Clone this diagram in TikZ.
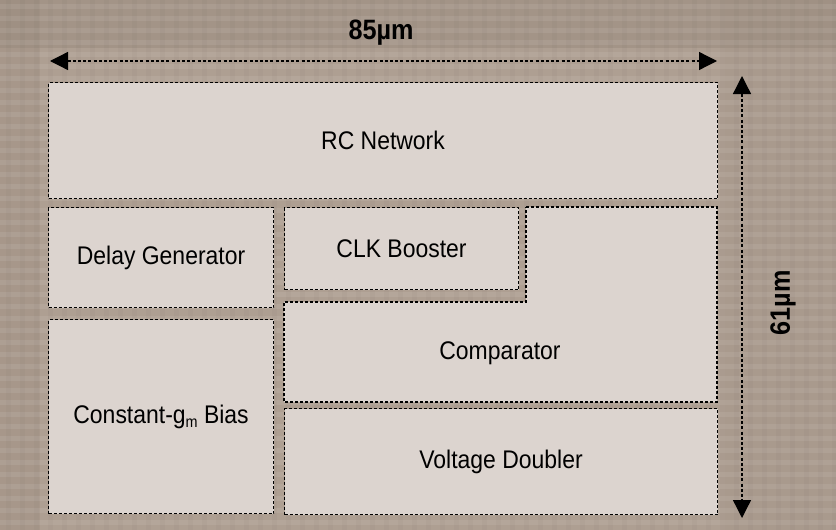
\documentclass[tikz,border=0pt]{standalone}
\usepackage{fontspec}
\setmainfont{Liberation Sans}[FakeStretch=0.9]
\usetikzlibrary{arrows.meta}
\definecolor{bgc}{HTML}{AE9F92}
\definecolor{bgdark}{HTML}{97877A}
\definecolor{blkc}{HTML}{DCD4CF}
\tikzset{
  blk/.style={draw=black, line width=1.1pt, dash pattern=on 3pt off 2pt, fill=blkc, inner sep=0pt, font=\fontsize{25.5}{28}\selectfont},
  lbl/.style={font=\fontsize{25.5}{28}\selectfont, inner sep=0pt},
  dim/.style={line width=1.3pt, dash pattern=on 3pt off 2.2pt, {Triangle[length=18pt,width=18pt]}-{Triangle[length=18pt,width=18pt]}},
  dimlbl/.style={font=\bfseries\fontsize{28}{30}\selectfont, inner sep=0pt}
}
\begin{document}
\begin{tikzpicture}[x=1pt,y=-1pt]
\useasboundingbox (0,0) rectangle (836,530);
% background (die photo)
\fill[bgc] (0,0) rectangle (836,530);
\fill[bgdark, opacity=0.45] (0,0) rectangle (836,48);
\fill[bgdark, opacity=0.3] (0,0) rectangle (40,530);
\fill[bgdark, opacity=0.2] (725,0) rectangle (836,530);
\foreach \y in {4,16,...,530} {\fill[white, opacity=0.08] (0,\y) rectangle (836,\y+5);}
\foreach \x in {6,20,...,836} {\fill[black, opacity=0.02] (\x,0) rectangle (\x+5,530);}
% blocks
\node[blk, anchor=north west, minimum width=669pt, minimum height=116pt] (rc) at (48,82) {RC Network};
\node[blk, anchor=north west, minimum width=225pt, minimum height=100pt] (dg) at (48,207) {Delay Generator};
\node[blk, anchor=north west, minimum width=225pt, minimum height=194pt] (cg) at (48,319) {Constant-g\raisebox{-0.3ex}{\fontsize{16}{16}\selectfont m} Bias};
\node[blk, anchor=north west, minimum width=234pt, minimum height=82pt] (clk) at (284,207) {CLK Booster};
\node[blk, anchor=north west, minimum width=433pt, minimum height=106pt] (vd) at (284,408) {Voltage Doubler};
\draw[blk] (526,207) -- (717,207) -- (717,402) -- (284,402) -- (284,302) -- (526,302) -- cycle;
\node[lbl] (cmp) at (500,353) {Comparator};
% dimensions
\coordinate (h1) at (50,61);
\coordinate (h2) at (717,61);
\draw[dim] (h1) -- (h2);
\node[dimlbl] (w) at (381,33) {85µm};
\coordinate (v1) at (742,76);
\coordinate (v2) at (742,518);
\draw[dim] (v1) -- (v2);
\node[dimlbl, rotate=90] (h) at (783,303) {61µm};
\end{tikzpicture}
\end{document}
